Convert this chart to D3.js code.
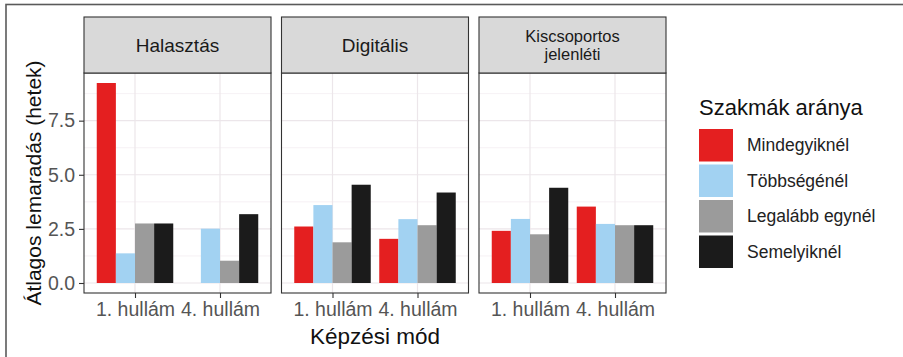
<!DOCTYPE html>
<html>
<head>
<meta charset="utf-8">
<script src="https://cdn.jsdelivr.net/npm/d3@7"></script>
<style>
  html, body { margin: 0; padding: 0; background: #fff; }
  svg { display: block; font-family: "Liberation Sans", Arial, Helvetica, sans-serif; }
</style>
</head>
<body>
<svg id="chart" width="903" height="357"></svg>
<script>
// Facets (training mode), waves on the x axis, and the fill groups
const facets = ["Halasztás", "Digitális", "Kiscsoportos\njelenléti"];
const waves = ["1. hullám", "4. hullám"];
const groups = ["Mindegyiknél", "Többségénél", "Legalább egynél", "Semelyiknél"];
const groupColors = ["#E41F20", "#A2D2F2", "#9B9B9B", "#1B1B1B"];

// Average delay in weeks: one array per facet and wave, ordered as `groups`
const halasztas1 = [9.24, 1.37, 2.75, 2.75];
const halasztas4 = [null, 2.51, 1.03, 3.18];
const digitalis1 = [2.61, 3.60, 1.88, 4.54];
const digitalis4 = [2.04, 2.95, 2.67, 4.18];
const kiscsop1 = [2.41, 2.96, 2.25, 4.40];
const kiscsop4 = [3.53, 2.73, 2.67, 2.67];

const yTicks = [0, 2.5, 5, 7.5];
const yMinorTicks = [1.25, 3.75, 6.25, 8.75];

const yTitle = "Átlagos lemaradás (hetek)";
const xTitle = "Képzési mód";
const legendTitle = "Szakmák aránya";

const facetValues = [
  [halasztas1, halasztas4],
  [digitalis1, digitalis4],
  [kiscsop1, kiscsop4]
];

const svg = d3.select("#chart");

// outer frame
svg.append("rect")
  .attr("x", 6).attr("y", 4.5)
  .attr("width", 1000).attr("height", 1000)
  .attr("fill", "none").attr("stroke", "#5a5a5a").attr("stroke-width", 1.6);

// layout
const panelLeft = 84, panelW = 187, panelGap = 10.5;
const stripTop = 17, stripBottom = 73, panelBottom = 293;

const allVals = facetValues.flat(2).filter(v => v != null);
const yMax = d3.max(allVals), yMin = 0;
const pad = (yMax - yMin) * 0.05;
const y = d3.scaleLinear().domain([yMin - pad, yMax + pad]).range([panelBottom, stripBottom]);

const x = d3.scalePoint().domain(waves).range([0, panelW]).padding(0.6);
const step = x.step();
const xSub = d3.scaleBand().domain(groups).range([-0.45 * step, 0.45 * step]);
const color = d3.scaleOrdinal().domain(groups).range(groupColors);

facets.forEach((facet, fi) => {
  const px = panelLeft + fi * (panelW + panelGap);
  const g = svg.append("g").attr("transform", `translate(${px},0)`);

  // grid
  g.selectAll(".minor").data(yMinorTicks).join("line")
    .attr("x1", 0).attr("x2", panelW)
    .attr("y1", d => y(d)).attr("y2", d => y(d))
    .attr("stroke", "#f4eef1").attr("stroke-width", 0.8);
  g.selectAll(".major").data(yTicks).join("line")
    .attr("x1", 0).attr("x2", panelW)
    .attr("y1", d => y(d)).attr("y2", d => y(d))
    .attr("stroke", "#ece6ea").attr("stroke-width", 1.2);
  g.selectAll(".vgrid").data(waves).join("line")
    .attr("x1", d => x(d)).attr("x2", d => x(d))
    .attr("y1", stripBottom).attr("y2", panelBottom)
    .attr("stroke", "#ece6ea").attr("stroke-width", 1.2);

  // bars
  waves.forEach((w, wi) => {
    const vals = facetValues[fi][wi];
    g.selectAll(null).data(groups.map((k, i) => ({ k, v: vals[i] })).filter(d => d.v != null))
      .join("rect")
      .attr("x", d => x(w) + xSub(d.k))
      .attr("width", xSub.bandwidth())
      .attr("y", d => y(Math.max(0, d.v)))
      .attr("height", d => Math.abs(y(d.v) - y(0)))
      .attr("fill", d => color(d.k));
  });

  // panel border
  g.append("rect")
    .attr("x", 0).attr("y", stripBottom)
    .attr("width", panelW).attr("height", panelBottom - stripBottom)
    .attr("fill", "none").attr("stroke", "#333").attr("stroke-width", 1.1);

  // strip
  g.append("rect")
    .attr("x", 0).attr("y", stripTop)
    .attr("width", panelW).attr("height", stripBottom - stripTop)
    .attr("fill", "#d9d9d9").attr("stroke", "#333").attr("stroke-width", 1.1);
  const lines = facet.split("\n");
  const lh = 18.5;
  const cy = (stripTop + stripBottom) / 2;
  lines.forEach((ln, li) => {
    g.append("text")
      .attr("x", panelW / 2)
      .attr("y", cy + (li - (lines.length - 1) / 2) * lh)
      .attr("dy", "0.35em")
      .attr("text-anchor", "middle")
      .attr("font-size", lines.length > 1 ? 16.5 : 19)
      .attr("fill", "#1a1a1a")
      .text(ln);
  });

  // x axis
  const xa = g.append("g").attr("transform", `translate(0,${panelBottom})`)
    .call(d3.axisBottom(x).tickSize(5).tickPadding(4));
  xa.select(".domain").remove();
  xa.selectAll(".tick line").attr("stroke", "#333").attr("stroke-width", 1.1);
  xa.selectAll(".tick text").attr("font-size", 19.5).attr("fill", "#555")
    .attr("font-family", "Liberation Sans, Arial, sans-serif");

  if (fi === 0) {
    const ya = g.append("g")
      .call(d3.axisLeft(y).tickValues(yTicks).tickFormat(d3.format(".1f")).tickSize(5).tickPadding(4));
    ya.select(".domain").remove();
    ya.selectAll(".tick line").attr("stroke", "#333").attr("stroke-width", 1.1);
    ya.selectAll(".tick text").attr("font-size", 19.5).attr("fill", "#555")
      .attr("font-family", "Liberation Sans, Arial, sans-serif");
  }
});

// axis titles
const panelsRight = panelLeft + 3 * panelW + 2 * panelGap;
svg.append("text")
  .attr("x", (panelLeft + panelsRight) / 2).attr("y", 344)
  .attr("text-anchor", "middle").attr("font-size", 22.5).attr("fill", "#111")
  .text(xTitle);
svg.append("text")
  .attr("transform", `translate(41,${(stripBottom + panelBottom) / 2}) rotate(-90)`)
  .attr("text-anchor", "middle").attr("font-size", 21).attr("fill", "#111")
  .text(yTitle);

// legend
const lg = svg.append("g").attr("transform", "translate(699,0)");
lg.append("text").attr("x", 0).attr("y", 115)
  .attr("font-size", 22).attr("fill", "#111").text(legendTitle);
const keyH = 35.5, keyTop = 127.5;
groups.forEach((k, i) => {
  lg.append("rect")
    .attr("x", 0).attr("y", keyTop + i * keyH + 1.5)
    .attr("width", 34).attr("height", keyH - 3)
    .attr("fill", color(k));
  lg.append("text")
    .attr("x", 48).attr("y", keyTop + i * keyH + keyH / 2)
    .attr("dy", "0.35em")
    .attr("font-size", 17.5).attr("fill", "#222")
    .text(k);
});
</script>
</body>
</html>
